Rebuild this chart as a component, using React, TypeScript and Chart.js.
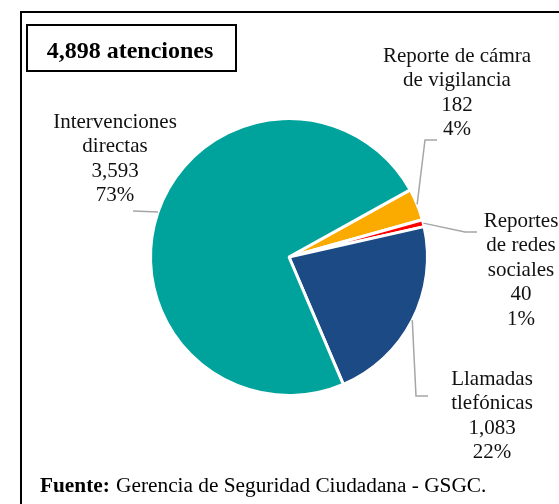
import React, { useEffect, useRef } from "react";
import { Chart, registerables } from "chart.js";

Chart.register(...registerables);

const categories = [
  "Reporte de cámra de vigilancia",
  "Reportes de redes sociales",
  "Llamadas tlefónicas",
  "Intervenciones directas",
];
const values = [182, 40, 1083, 3593];
const valueLabels = ["182", "40", "1,083", "3,593"];
const percentLabels = ["4%", "1%", "22%", "73%"];
const nameLines = [
  ["Reporte de cámra", "de vigilancia"],
  ["Reportes", "de redes", "sociales"],
  ["Llamadas", "tlefónicas"],
  ["Intervenciones", "directas"],
];
const colors = ["#FBAA00", "#FF0000", "#1C4A84", "#00A39B"];
const titleText = "4,898 atenciones";
const sourceBold = "Fuente:";
const sourceText = " Gerencia de Seguridad Ciudadana - GSGC.";

// label layout: text center x, first baseline y, leader path after arc point
const labelLayout = [
  { cx: 457, by: 62, path: [[425, 140], [437, 140]] },
  { cx: 521, by: 227, path: [[465, 232], [477, 232]] },
  { cx: 492, by: 385, path: [[416, 396], [428, 396]] },
  { cx: 115, by: 128, path: [[133, 211]] },
];

const FONT = `"Liberation Serif", Tinos, "Times New Roman", "DejaVu Serif", serif`;
const LINE_H = 24.4;

const overlayPlugin = {
  id: "overlay",
  afterDraw(chart: any) {
    const ctx = chart.ctx as CanvasRenderingContext2D;
    const meta = chart.getDatasetMeta(0);
    ctx.save();

    // outer frame
    ctx.strokeStyle = "#000";
    ctx.lineWidth = 2;
    ctx.beginPath();
    ctx.moveTo(21, 504);
    ctx.lineTo(21, 12);
    ctx.lineTo(559, 12);
    ctx.stroke();

    // title box
    ctx.strokeRect(27, 25, 209, 46);
    ctx.fillStyle = "#000";
    ctx.font = `bold 24px ${FONT}`;
    ctx.textAlign = "center";
    ctx.textBaseline = "alphabetic";
    ctx.fillText(titleText, 130, 58);

    // leader lines
    ctx.strokeStyle = "#A6A6A6";
    ctx.lineWidth = 1.5;
    meta.data.forEach((arc: any, i: number) => {
      const mid = (arc.startAngle + arc.endAngle) / 2;
      const r = arc.outerRadius;
      const sx = arc.x + Math.cos(mid) * r;
      const sy = arc.y + Math.sin(mid) * r;
      ctx.beginPath();
      ctx.moveTo(sx, sy);
      labelLayout[i].path.forEach((p) => ctx.lineTo(p[0], p[1]));
      ctx.stroke();
    });

    // labels
    ctx.fillStyle = "#111";
    ctx.font = `21px ${FONT}`;
    ctx.textAlign = "center";
    categories.forEach((_c, i) => {
      const lines = [...nameLines[i], valueLabels[i], percentLabels[i]];
      const L = labelLayout[i];
      lines.forEach((t, j) => ctx.fillText(t, L.cx, L.by + j * LINE_H));
    });

    // source
    ctx.textAlign = "left";
    ctx.fillStyle = "#000";
    ctx.font = `bold 21.3px ${FONT}`;
    ctx.fillText(sourceBold, 40, 492);
    const w = ctx.measureText(sourceBold).width;
    ctx.font = `21.3px ${FONT}`;
    ctx.fillText(sourceText, 40 + w + 1, 492);

    ctx.restore();
  },
};

export default function App() {
  const ref = useRef<HTMLCanvasElement>(null);
  useEffect(() => {
    if (!ref.current) return;
    const chart = new Chart(ref.current, {
      type: "pie",
      data: {
        labels: categories,
        datasets: [
          {
            data: values,
            backgroundColor: colors,
            borderColor: "#FFFFFF",
            borderWidth: 3,
          },
        ],
      },
      options: {
        responsive: false,
        animation: false,
        rotation: 61,
        radius: 138.5,
        layout: { padding: { left: 140, right: 121, top: 115, bottom: 105 } },
        plugins: {
          legend: { display: false },
          tooltip: { enabled: false },
          title: { display: false },
        },
      },
      plugins: [overlayPlugin],
    });
    let alive = true;
    const fs: any = (document as any).fonts;
    if (fs && fs.load) {
      Promise.all([
        fs.load(`21px "Liberation Serif"`),
        fs.load(`bold 21px "Liberation Serif"`),
      ])
        .catch(() => null)
        .then(() => {
          if (alive) chart.draw();
        });
    }
    return () => {
      alive = false;
      chart.destroy();
    };
  }, []);
  return (
    <div style={{ position: "fixed", left: 0, top: 0, width: 559, height: 504, background: "#fff" }}>
      <canvas ref={ref} width={559} height={504} style={{ display: "block" }} />
    </div>
  );
}
